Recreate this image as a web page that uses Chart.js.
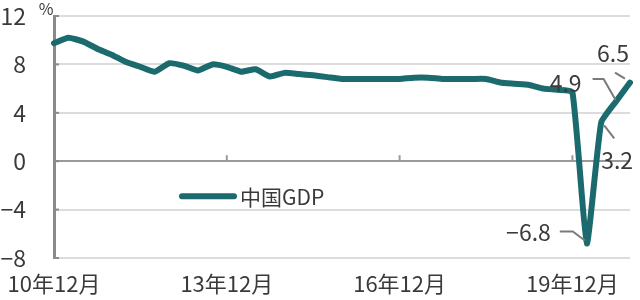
<!DOCTYPE html>
<html lang="ja">
<head>
  <meta charset="UTF-8" />
  <title>中国GDP</title>
  <script src="https://cdn.jsdelivr.net/npm/chart.js"></script>
  <style>
    html, body { margin: 0; padding: 0; background: #fff; }
    #wrap { width: 640px; height: 300px; }
  </style>
</head>
<body>
  <div id="wrap"><canvas id="gdpChart" width="640" height="300"></canvas></div>

  <script>
    // 四半期（10年12月〜20年12月）
    const quarters = [
      '10年12月',
      '11年3月', '11年6月', '11年9月', '11年12月',
      '12年3月', '12年6月', '12年9月', '12年12月',
      '13年3月', '13年6月', '13年9月', '13年12月',
      '14年3月', '14年6月', '14年9月', '14年12月',
      '15年3月', '15年6月', '15年9月', '15年12月',
      '16年3月', '16年6月', '16年9月', '16年12月',
      '17年3月', '17年6月', '17年9月', '17年12月',
      '18年3月', '18年6月', '18年9月', '18年12月',
      '19年3月', '19年6月', '19年9月', '19年12月',
      '20年3月', '20年6月', '20年9月', '20年12月'
    ];
    // 実質GDP成長率（前年同期比、%）
    const gdp = [
      9.75,
      10.2, 9.9, 9.3, 8.8,
      8.2, 7.8, 7.4, 8.1,
      7.9, 7.5, 8.0, 7.8,
      7.4, 7.6, 7.0, 7.3,
      7.2, 7.1, 6.95, 6.8,
      6.8, 6.8, 6.8, 6.8,
      6.9, 6.9, 6.8, 6.8,
      6.8, 6.8, 6.5, 6.4,
      6.3, 6.0, 5.9, 5.7,
      -6.8, 3.2, 4.9, 6.5
    ];
    const shownTicks = ['10年12月', '13年12月', '16年12月', '19年12月'];
    const yTicks = [-8, -4, 0, 4, 8, 12];
    const labelled = ['20年3月', '20年6月', '20年9月', '20年12月'];

    const FONT = '"Noto Sans CJK JP", "Noto Sans", sans-serif';
    const TEXT = '#3a3a3a';
    const LINE = '#1b6a6e';

    // ラベルの位置（点からのずれ）
    const annotLayout = {
      '20年3月':  { tx: -36, ty: -11, align: 'right', lead: [[-27, -12], [-14, -12], [-2, -3]] },
      '20年6月':  { tx: 0,   ty: 38,  align: 'left',  lead: [[3, 3], [13, 16]] },
      '20年9月':  { tx: -34, ty: -19, align: 'right', lead: [[-23, -23], [-12, -23], [0, -2]] },
      '20年12月': { tx: -1,  ty: -29, align: 'right', lead: [[-15, -10], [-5, -4]] }
    };

    const fmt = v => (v < 0 ? '−' + Math.abs(v) : String(v));

    const decorations = {
      id: 'decorations',
      afterDatasetsDraw(chart) {
        const { ctx, chartArea, scales } = chart;
        const x = scales.x, y = scales.y;
        const y0 = y.getPixelForValue(0);
        ctx.save();

        // ゼロ線上の目盛り
        ctx.strokeStyle = '#9a9a9a';
        ctx.lineWidth = 2;
        shownTicks.slice(1).forEach(lbl => {
          const px = x.getPixelForValue(quarters.indexOf(lbl));
          ctx.beginPath();
          ctx.moveTo(px, y0);
          ctx.lineTo(px, y0 - 6);
          ctx.stroke();
        });
        // 縦軸の目盛り
        ctx.strokeStyle = '#8a8a8a';
        yTicks.forEach(v => {
          const py = y.getPixelForValue(v);
          ctx.beginPath();
          ctx.moveTo(chartArea.left, py);
          ctx.lineTo(chartArea.left + 5, py);
          ctx.stroke();
        });

        // 単位
        ctx.fillStyle = TEXT;
        ctx.font = '16px ' + FONT;
        ctx.textAlign = 'center';
        ctx.textBaseline = 'middle';
        ctx.fillText('%', chartArea.left - 8, chartArea.top - 7);

        // 凡例
        const ds = chart.data.datasets[0];
        const ly = y.getPixelForValue(-2.9);
        ctx.strokeStyle = LINE;
        ctx.lineWidth = 6;
        ctx.lineCap = 'round';
        ctx.beginPath();
        ctx.moveTo(chartArea.left + 128, ly);
        ctx.lineTo(chartArea.left + 180, ly);
        ctx.stroke();
        ctx.font = '21px ' + FONT;
        ctx.textAlign = 'left';
        ctx.fillText(ds.label, chartArea.left + 186, ly + 1);

        // 数値ラベル
        const meta = chart.getDatasetMeta(0);
        ctx.font = '23px ' + FONT;
        ctx.lineCap = 'butt';
        labelled.forEach(lbl => {
          const i = quarters.indexOf(lbl);
          const pt = meta.data[i];
          const a = annotLayout[lbl];
          ctx.strokeStyle = '#7a7a7a';
          ctx.lineWidth = 2;
          ctx.beginPath();
          a.lead.forEach(([dx, dy], k) => {
            if (k === 0) ctx.moveTo(pt.x + dx, pt.y + dy);
            else ctx.lineTo(pt.x + dx, pt.y + dy);
          });
          ctx.stroke();
          ctx.fillStyle = TEXT;
          ctx.textAlign = a.align;
          ctx.fillText(fmt(gdp[i]), pt.x + a.tx, pt.y + a.ty);
        });
        ctx.restore();
      }
    };

    new Chart(document.getElementById('gdpChart'), {
      type: 'line',
      data: {
        labels: quarters,
        datasets: [{
          label: '中国GDP',
          data: gdp,
          borderColor: LINE,
          borderWidth: 6,
          borderJoinStyle: 'round',
          borderCapStyle: 'round',
          pointRadius: 0,
          tension: 0.15,
          fill: false
        }]
      },
      options: {
        responsive: false,
        animation: false,
        devicePixelRatio: 1,
        layout: { padding: { top: 16, right: 10, left: 0, bottom: 0 } },
        plugins: {
          legend: { display: false },
          tooltip: { enabled: false }
        },
        scales: {
          x: {
            offset: false,
            grid: { display: false },
            border: { display: false },
            afterFit: s => { s.height = 42; s.paddingLeft = 0; s.paddingRight = 0; },
            ticks: {
              autoSkip: false,
              maxRotation: 0,
              minRotation: 0,
              padding: 4,
              color: TEXT,
              font: { family: FONT, size: 22 },
              callback: (v, i) => (shownTicks.includes(quarters[i]) ? quarters[i] : '')
            }
          },
          y: {
            min: yTicks[0],
            max: yTicks[yTicks.length - 1],
            afterBuildTicks: s => { s.ticks = yTicks.map(v => ({ value: v })); },
            afterFit: s => { s.width = 54; s.paddingTop = 0; s.paddingBottom = 0; },
            grid: {
              drawTicks: false,
              lineWidth: 2,
              color: c => (c.tick && c.tick.value === 0 ? '#9a9a9a' : '#dcdcdc')
            },
            border: { display: true, color: '#8a8a8a', width: 3 },
            ticks: {
              padding: 28,
              color: TEXT,
              font: { family: FONT, size: 23 },
              callback: v => fmt(v)
            }
          }
        }
      },
      plugins: [decorations]
    });
  </script>
</body>
</html>
